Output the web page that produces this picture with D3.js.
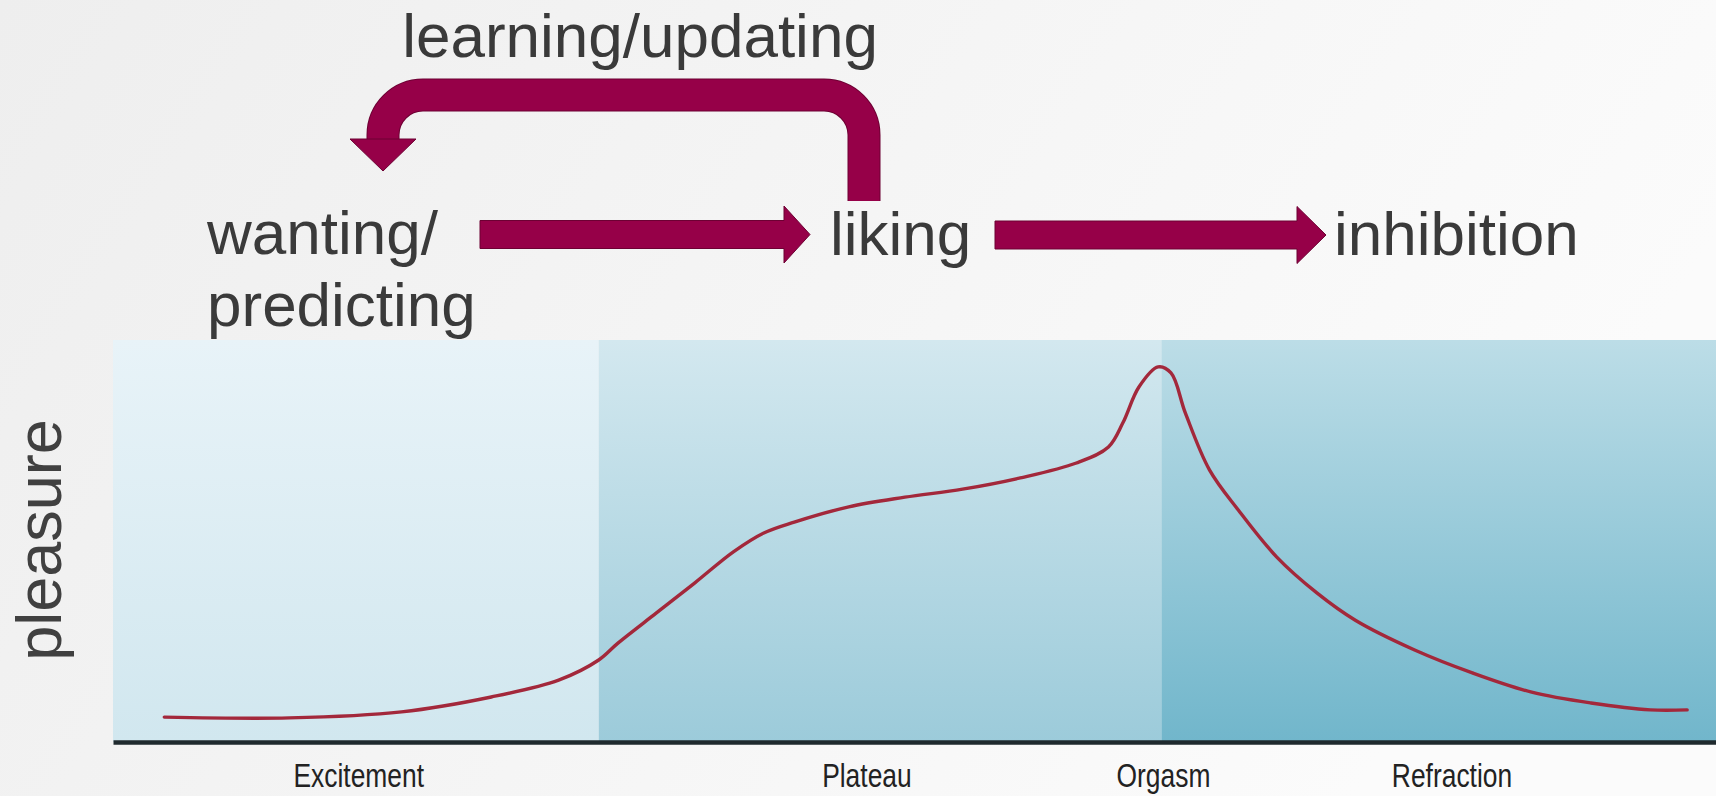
<!DOCTYPE html>
<html>
<head>
<meta charset="utf-8">
<script src="https://cdn.jsdelivr.net/npm/d3@7"></script>
<style>
  html, body { margin: 0; padding: 0; overflow: hidden; }
  svg { display: block; }
</style>
</head>
<body>
<svg id="chart" width="1716" height="796"></svg>
<script>
// ---------------- data ----------------
const phaseNames  = ["Excitement", "Plateau", "Refraction"];
const phaseStart  = [0, 30.3, 65.4];
const phaseEnd    = [30.3, 65.4, 100];

const axisLabels   = ["Excitement", "Plateau", "Orgasm", "Refraction"];
const axisLabelPos = [15.3, 47.0, 65.5, 83.5];

const timeVals = [3.2, 11.0, 18.0, 23.6, 27.8, 30.3, 31.5, 33.9, 36.3, 38.7, 40.6, 42.5, 45.9,
                  49.4, 53.0, 56.6, 60.1, 62.1, 63.0, 64.0, 65.2, 66.0, 66.9, 68.4, 70.2,
                  72.6, 75.1, 77.5, 81.2, 84.8, 88.5, 92.2, 95.9, 98.2];
const pleasureVals = [6.2, 6.0, 7.5, 11.2, 15.4, 20.4, 24.6, 32.1, 39.6, 47.3, 52.0, 54.7, 58.5,
                      60.9, 62.9, 65.7, 69.4, 73.4, 79.4, 88.3, 93.3, 91.8, 81.8, 67.7, 57.7,
                      46.0, 37.1, 30.3, 22.9, 17.2, 12.4, 9.7, 8.0, 8.0];

const yAxisTitle = "pleasure";
const stageNames = ["wanting/", "predicting", "liking", "inhibition"];
const loopLabel  = "learning/updating";

// ---------------- drawing ----------------
const W = 1716, H = 796;
const svg = d3.select("#chart");
const defs = svg.append("defs");

const bg = defs.append("linearGradient").attr("id", "bg").attr("x1", 0).attr("x2", 1).attr("y1", 0).attr("y2", 0.3);
bg.append("stop").attr("offset", "0%").attr("stop-color", "#eeeeee");
bg.append("stop").attr("offset", "100%").attr("stop-color", "#fbfbfb");
svg.append("rect").attr("width", W).attr("height", H).attr("fill", "url(#bg)");

const phaseColors = [["#e8f3f8", "#d1e7ef"], ["#d3e8ef", "#9ccbda"], ["#bcdde7", "#71b6cb"]];
phaseColors.forEach((c, i) => {
  const g = defs.append("linearGradient").attr("id", "ph" + i).attr("x1", 0).attr("x2", 0).attr("y1", 0).attr("y2", 1);
  g.append("stop").attr("offset", "0%").attr("stop-color", c[0]);
  g.append("stop").attr("offset", "100%").attr("stop-color", c[1]);
});

const x = d3.scaleLinear().domain([0, 100]).range([113, 1716]);
const y = d3.scaleLinear().domain([0, 100]).range([742, 340]);

// phase bands
svg.append("g").selectAll("rect").data(phaseNames).join("rect")
  .attr("x", (d, i) => x(phaseStart[i]))
  .attr("width", (d, i) => x(phaseEnd[i]) - x(phaseStart[i]))
  .attr("y", y(100))
  .attr("height", y(0) - y(100))
  .attr("fill", (d, i) => `url(#ph${i})`);

// curve
const pts = timeVals.map((t, i) => [t, pleasureVals[i]]);
const line = d3.line().x(d => x(d[0])).y(d => y(d[1])).curve(d3.curveCatmullRom.alpha(0.5));
svg.append("path").datum(pts)
  .attr("d", line)
  .attr("fill", "none")
  .attr("stroke", "#a3283b")
  .attr("stroke-width", 3.4)
  .attr("stroke-linecap", "round");

// x axis
const xAxis = d3.axisBottom(x).tickValues(axisLabelPos).tickSize(0)
  .tickFormat((d, i) => axisLabels[i]);
const ax = svg.append("g").attr("transform", `translate(0,${y(0)})`).call(xAxis);
ax.select(".domain").attr("stroke", "#1f2a2e").attr("stroke-width", 4.5);
ax.selectAll("text")
  .attr("dy", null)
  .attr("y", 45)
  .attr("fill", "#222")
  .style("font-family", "'Liberation Sans', Arial, sans-serif")
  .style("font-size", "33px")
  .each(function () {
    const len = this.getComputedTextLength();
    d3.select(this).attr("textLength", len * 0.8).attr("lengthAdjust", "spacingAndGlyphs");
  });

// y axis title
svg.append("text")
  .attr("transform", "translate(61,540) rotate(-90)")
  .attr("text-anchor", "middle")
  .attr("fill", "#404040")
  .style("font-family", "'Liberation Sans', Arial, sans-serif")
  .style("font-size", "63px")
  .text(yAxisTitle);

// ---------------- flow diagram ----------------
const textStyle = sel => sel.attr("fill", "#3a3a3a")
  .style("font-family", "'Liberation Sans', Arial, sans-serif")
  .style("font-size", "62px");

svg.append("text").attr("x", 640).attr("y", 57).attr("text-anchor", "middle").call(textStyle).text(loopLabel);
svg.append("text").attr("x", 207).attr("y", 254).call(textStyle).text(stageNames[0]);
svg.append("text").attr("x", 207).attr("y", 326).call(textStyle).text(stageNames[1]);
svg.append("text").attr("x", 830).attr("y", 255).call(textStyle).text(stageNames[2]);
svg.append("text").attr("x", 1334).attr("y", 255).call(textStyle).text(stageNames[3]);

const arrowFill = "#960048", arrowEdge = "#6d0033";

function straightArrow(x0, x1, tip, cy) {
  const sh = 14, hh = 28.5;
  const p = [[x0, cy - sh], [x1, cy - sh], [x1, cy - hh], [tip, cy], [x1, cy + hh], [x1, cy + sh], [x0, cy + sh]];
  svg.append("path").attr("d", "M" + p.join("L") + "Z")
    .attr("fill", arrowFill).attr("stroke", arrowEdge).attr("stroke-width", 1);
}
straightArrow(480, 784, 810, 234.5);
straightArrow(995, 1297, 1326, 235);

// curved feedback arrow
const r = 40;
const loopPath = (yEnd) => `M864,201 L864,${95 + r} A${r},${r} 0 0 0 ${864 - r},95 L${383 + r},95 A${r},${r} 0 0 0 383,${95 + r} L383,${yEnd}`;
svg.append("path").attr("d", loopPath(141))
  .attr("fill", "none").attr("stroke", arrowEdge).attr("stroke-width", 33);
svg.append("path").attr("d", loopPath(142))
  .attr("fill", "none").attr("stroke", arrowFill).attr("stroke-width", 31);
svg.append("path").attr("d", "M350,139 L416,139 L383,171 Z")
  .attr("fill", arrowFill).attr("stroke", arrowEdge).attr("stroke-width", 1);
</script>
</body>
</html>
